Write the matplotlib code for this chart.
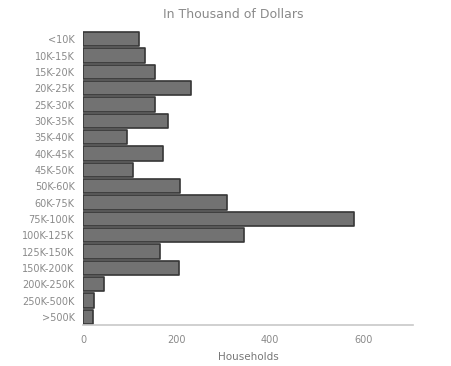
import matplotlib
matplotlib.use("Agg")
import matplotlib.pyplot as plt

# Household income brackets and household counts
brackets = ["<10K", "10K-15K", "15K-20K", "20K-25K", "25K-30K", "30K-35K",
            "35K-40K", "40K-45K", "45K-50K", "50K-60K", "60K-75K", "75K-100K",
            "100K-125K", "125K-150K", "150K-200K", "200K-250K", "250K-500K", ">500K"]
households = [120, 132, 153, 230, 155, 181, 94, 171, 107, 207, 308, 580,
              344, 164, 205, 46, 24, 22]
x_ticks = [0, 200, 400, 600]

fig = plt.figure(figsize=(4.51, 3.66), dpi=100)
ax = fig.add_axes([0.184, 0.112, 0.732, 0.803])

y = list(range(len(brackets)))
ax.barh(y, households, height=0.88, color="#727272", edgecolor="#363636",
        linewidth=1.2, joinstyle="round")

ax.set_ylim(len(brackets) - 0.5, -0.5)
ax.set_xlim(0, 706)
ax.set_yticks(y)
ax.set_yticklabels(brackets)
ax.set_xticks(x_ticks)

txt = "#8a8a8a"
ax.tick_params(axis="both", length=0, colors=txt, labelsize=7)
ax.tick_params(axis="y", pad=6)
ax.tick_params(axis="x", pad=7)
for s in ("top", "right", "left"):
    ax.spines[s].set_visible(False)
ax.spines["bottom"].set_color("#c8c8c8")
ax.spines["bottom"].set_linewidth(1.2)

ax.set_xlabel("Households", color="#777777", fontsize=7.5, labelpad=5)
fig.text(0.517, 0.96, "In Thousand of Dollars", ha="center", va="center",
         color="#8a8a8a", fontsize=9)

fig.savefig("out.png", dpi=100)
